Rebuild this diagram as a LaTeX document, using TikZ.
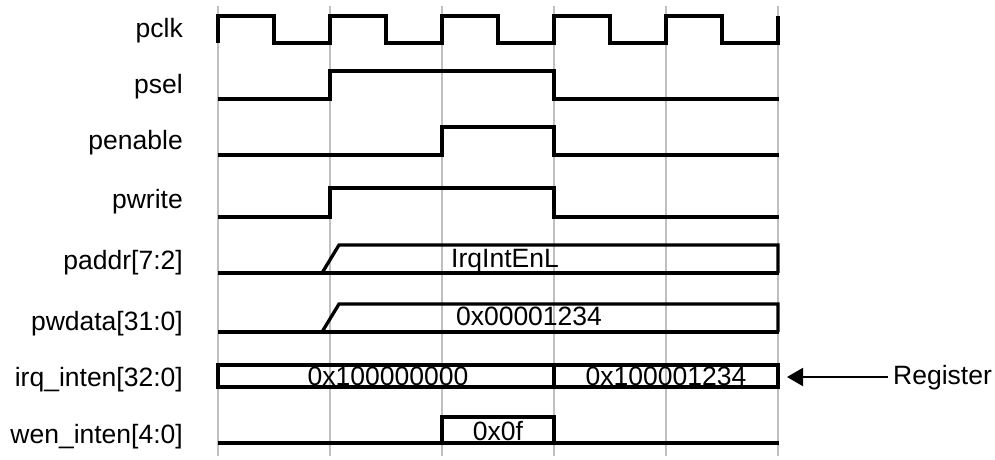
\documentclass[tikz,border=0pt]{standalone}
\usepackage{fontspec}
\setmainfont{Liberation Sans}
\usetikzlibrary{arrows.meta}
\definecolor{gridgray}{RGB}{192,192,192}
\begin{document}
\begin{tikzpicture}[x=1pt,y=-1pt,
  sig/.style={line width=3.3pt,black},
  gridln/.style={line width=2.5pt,draw=gridgray},
  lbl/.style={anchor=east,inner sep=0pt,font=\fontsize{26.5}{31}\selectfont},
  val/.style={anchor=base,inner sep=0pt,font=\fontsize{26.5}{31}\selectfont}]
\useasboundingbox (0,0) rectangle (995,459);
\foreach \x in {218,330,442,554,666,778} \draw[gridln] (\x,6) -- (\x,456);
% labels
\node[lbl] (lpclk) at (183,31) {pclk};
\node[lbl] (lpsel) at (183,87) {psel};
\node[lbl] (lpen) at (183,143) {penable};
\node[lbl] (lpwr) at (183,202) {pwrite};
\node[lbl] (lpaddr) at (183,263) {paddr[7:2]};
\node[lbl] (lpwdata) at (183,324) {pwdata[31:0]};
\node[lbl] (lirq) at (183,380) {irq\_inten[32:0]};
\node[lbl] (lwen) at (183,437) {wen\_inten[4:0]};
% pclk
\draw[sig] (218,43) -- (218,16) -- (274,16) -- (274,43) -- (330,43) -- (330,16) -- (386,16) -- (386,43)
  -- (442,43) -- (442,16) -- (498,16) -- (498,43) -- (554,43) -- (554,16) -- (610,16) -- (610,43)
  -- (666,43) -- (666,16) -- (722,16) -- (722,43) -- (778,43) -- (778,16);
% psel
\draw[sig] (218,99) -- (330,99) -- (330,71) -- (554,71) -- (554,99) -- (779,99);
% penable
\draw[sig] (218,155) -- (442,155) -- (442,127) -- (554,127) -- (554,155) -- (779,155);
% pwrite
\draw[sig] (218,217) -- (330,217) -- (330,188) -- (554,188) -- (554,217) -- (779,217);
% paddr
\draw[sig] (218,273) -- (779,273);
\draw[sig] (322,273) -- (339,245) -- (778,245) -- (778,273);
% pwdata
\draw[sig] (218,332) -- (779,332);
\draw[sig] (322,332) -- (339,304) -- (778,304) -- (778,332);
% irq_inten
\draw[sig] (218,365) rectangle (778,387);
\draw[sig] (554,365) -- (554,387);
% wen_inten
\draw[sig] (218,443) -- (779,443);
\draw[sig] (442,443) -- (442,417) -- (554,417) -- (554,443);
% values
\node[val] (vaddr) at (505,267) {IrqIntEnL};
\node[val] (vdata) at (529,325) {0x00001234};
\node[val] (virqa) at (388,385) {0x100000000};
\node[val] (virqb) at (666,385) {0x100001234};
\node[val] (vwen) at (498,440) {0x0f};
% register arrow
\coordinate (irqtip) at (787,377);
\node[lbl,anchor=west] (reg) at (893,378) {Register};
\draw[line width=2pt,-{Triangle[length=16pt,width=18pt]},shorten <=5pt] (reg.west |- irqtip) -- (irqtip);
\end{tikzpicture}
\end{document}
